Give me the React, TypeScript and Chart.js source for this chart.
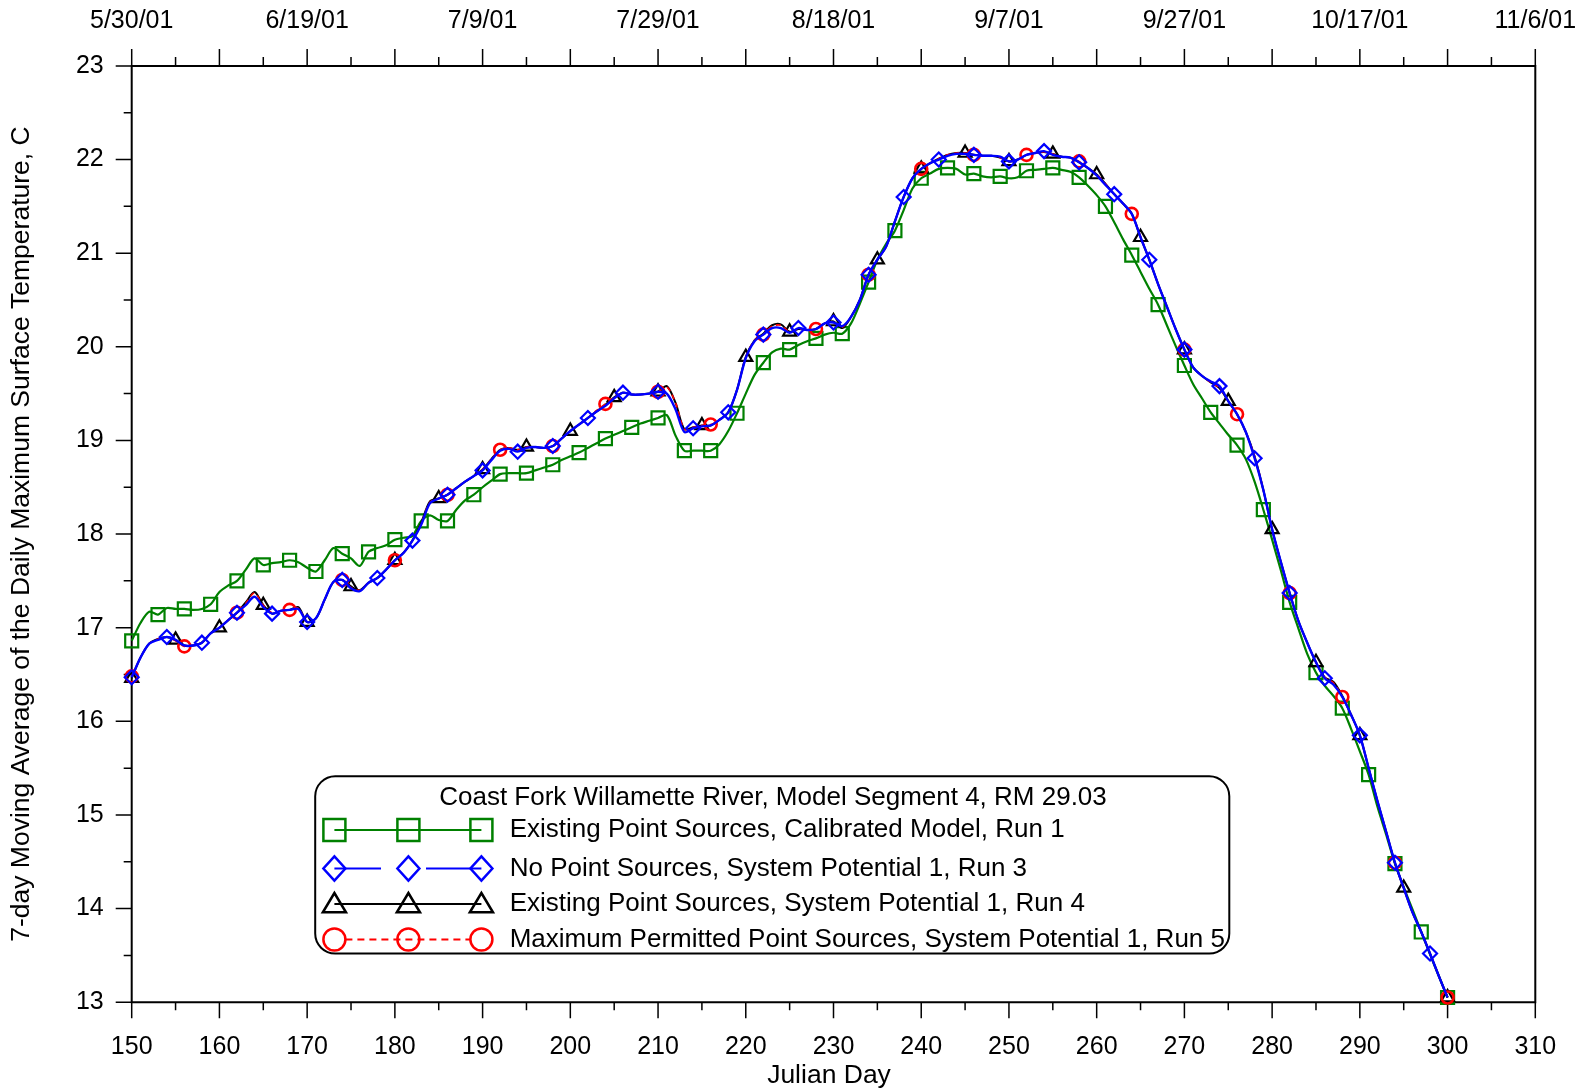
import React, { useEffect, useRef } from 'react';
import { Chart, registerables } from 'chart.js';

Chart.register(...registerables);

const startDay = 150;

// Existing Point Sources, Calibrated Model, Run 1 (daily, day 150..300)
const greenRun1 = [
  16.86, 17.05, 17.17, 17.14, 17.21, 17.20, 17.20, 17.19, 17.20, 17.25,
  17.38, 17.45, 17.50, 17.62, 17.74, 17.67, 17.69, 17.70, 17.72, 17.70,
  17.64, 17.60, 17.72, 17.85, 17.79, 17.74, 17.66, 17.81, 17.85, 17.88,
  17.94, 17.96, 17.98, 18.14, 18.20, 18.15, 18.14, 18.26, 18.36, 18.42,
  18.50, 18.57, 18.64, 18.65, 18.65, 18.65, 18.68, 18.71, 18.74, 18.79,
  18.83, 18.87, 18.92, 18.97, 19.02, 19.06, 19.10, 19.14, 19.18, 19.21,
  19.24, 19.27, 19.05, 18.89, 18.89, 18.89, 18.89, 18.96, 19.10, 19.29,
  19.50, 19.70, 19.83, 19.94, 19.98, 19.97, 20.02, 20.06, 20.09, 20.13,
  20.15, 20.14, 20.25, 20.46, 20.69, 20.93, 21.10, 21.24, 21.46, 21.69,
  21.80, 21.85, 21.90, 21.91, 21.90, 21.84, 21.85, 21.82, 21.81, 21.82,
  21.80, 21.81, 21.88, 21.89, 21.90, 21.91, 21.89, 21.87, 21.81, 21.72,
  21.62, 21.50, 21.33, 21.15, 20.98, 20.80, 20.62, 20.45, 20.23, 20.01,
  19.80, 19.60, 19.45, 19.30, 19.18, 19.06, 18.95, 18.80, 18.56, 18.26,
  17.94, 17.61, 17.27, 16.99, 16.72, 16.52, 16.38, 16.27, 16.14, 15.92,
  15.68, 15.43, 15.09, 14.79, 14.48, 14.23, 13.99, 13.75, 13.51, 13.28,
  13.05,
];

// No Point Sources, System Potential 1, Run 3
const blueRun3 = [
  16.47, 16.68, 16.83, 16.87, 16.90, 16.87, 16.81, 16.81, 16.84, 16.94,
  17.00, 17.08, 17.16, 17.24, 17.33, 17.22, 17.15, 17.18, 17.19, 17.20,
  17.06, 17.10, 17.30, 17.49, 17.51, 17.42, 17.39, 17.48, 17.53, 17.62,
  17.72, 17.80, 17.93, 18.10, 18.33, 18.38, 18.42, 18.49, 18.56, 18.62,
  18.68, 18.79, 18.89, 18.91, 18.88, 18.92, 18.93, 18.92, 18.94, 19.02,
  19.10, 19.17, 19.24, 19.31, 19.37, 19.45, 19.51, 19.49, 19.49, 19.50,
  19.52, 19.50, 19.33, 19.09, 19.13, 19.15, 19.16, 19.22, 19.30, 19.54,
  19.88, 20.06, 20.13, 20.20, 20.20, 20.15, 20.20, 20.18, 20.19, 20.25,
  20.26, 20.22, 20.32, 20.50, 20.77, 20.93, 21.07, 21.34, 21.60, 21.80,
  21.90, 21.96, 22.00, 22.04, 22.06, 22.06, 22.05, 22.04, 22.04, 22.03,
  21.98, 22.00, 22.05, 22.07, 22.09, 22.05, 22.03, 22.02, 21.97, 21.91,
  21.83, 21.73, 21.63, 21.53, 21.42, 21.17, 20.93, 20.67, 20.43, 20.19,
  19.97, 19.78, 19.69, 19.63, 19.58, 19.42, 19.28, 19.09, 18.81, 18.47,
  18.05, 17.70, 17.37, 17.07, 16.84, 16.63, 16.46, 16.39, 16.26, 16.07,
  15.85, 15.50, 15.15, 14.82, 14.49, 14.22, 13.96, 13.75, 13.52, 13.28,
  13.05,
];

// Existing Point Sources, System Potential 1, Run 4
const blackRun4 = [
  16.46, 16.68, 16.83, 16.88, 16.90, 16.87, 16.81, 16.81, 16.84, 16.94,
  17.00, 17.08, 17.16, 17.27, 17.38, 17.24, 17.15, 17.18, 17.19, 17.22,
  17.06, 17.10, 17.30, 17.49, 17.51, 17.44, 17.40, 17.48, 17.53, 17.62,
  17.72, 17.80, 17.93, 18.12, 18.35, 18.38, 18.42, 18.49, 18.56, 18.62,
  18.69, 18.80, 18.90, 18.92, 18.90, 18.93, 18.93, 18.92, 18.94, 19.02,
  19.10, 19.17, 19.24, 19.31, 19.38, 19.46, 19.51, 19.49, 19.49, 19.50,
  19.52, 19.58, 19.40, 19.12, 19.14, 19.16, 19.16, 19.22, 19.30, 19.54,
  19.89, 20.07, 20.14, 20.23, 20.24, 20.16, 20.19, 20.18, 20.19, 20.25,
  20.27, 20.20, 20.32, 20.50, 20.77, 20.93, 21.07, 21.34, 21.60, 21.80,
  21.90, 21.96, 22.01, 22.05, 22.07, 22.07, 22.05, 22.04, 22.04, 22.02,
  21.98, 22.00, 22.05, 22.07, 22.08, 22.06, 22.03, 22.02, 21.97, 21.91,
  21.84, 21.74, 21.63, 21.53, 21.42, 21.17, 20.93, 20.67, 20.43, 20.19,
  19.97, 19.78, 19.69, 19.62, 19.56, 19.42, 19.28, 19.09, 18.83, 18.47,
  18.05, 17.70, 17.37, 17.07, 16.84, 16.63, 16.47, 16.42, 16.27, 16.07,
  15.85, 15.50, 15.15, 14.82, 14.49, 14.22, 13.96, 13.75, 13.52, 13.28,
  13.05,
];

// Maximum Permitted Point Sources, System Potential 1, Run 5
const redRun5 = [
  16.48, 16.68, 16.83, 16.88, 16.90, 16.86, 16.80, 16.81, 16.84, 16.94,
  17.00, 17.08, 17.16, 17.26, 17.37, 17.24, 17.16, 17.18, 17.19, 17.21,
  17.06, 17.10, 17.30, 17.49, 17.51, 17.43, 17.40, 17.48, 17.53, 17.62,
  17.72, 17.80, 17.93, 18.11, 18.34, 18.38, 18.42, 18.49, 18.56, 18.62,
  18.69, 18.80, 18.90, 18.92, 18.90, 18.93, 18.93, 18.92, 18.94, 19.02,
  19.10, 19.17, 19.24, 19.32, 19.39, 19.46, 19.51, 19.49, 19.49, 19.50,
  19.52, 19.57, 19.40, 19.12, 19.14, 19.16, 19.17, 19.22, 19.30, 19.54,
  19.89, 20.07, 20.13, 20.22, 20.23, 20.16, 20.19, 20.18, 20.19, 20.25,
  20.26, 20.21, 20.32, 20.50, 20.77, 20.93, 21.07, 21.34, 21.60, 21.80,
  21.90, 21.96, 22.01, 22.05, 22.07, 22.07, 22.05, 22.04, 22.04, 22.02,
  21.98, 22.00, 22.05, 22.07, 22.08, 22.06, 22.03, 22.02, 21.98, 21.91,
  21.84, 21.74, 21.63, 21.53, 21.42, 21.18, 20.93, 20.67, 20.43, 20.19,
  19.97, 19.78, 19.69, 19.62, 19.56, 19.42, 19.28, 19.09, 18.83, 18.47,
  18.05, 17.70, 17.37, 17.07, 16.84, 16.63, 16.47, 16.41, 16.26, 16.07,
  15.85, 15.50, 15.15, 14.82, 14.49, 14.22, 13.96, 13.75, 13.52, 13.28,
  13.05,
];

const dateLabels = ['5/30/01', '6/19/01', '7/9/01', '7/29/01', '8/18/01', '9/7/01', '9/27/01', '10/17/01', '11/6/01'];

const seriesLabels = [
  'Existing Point Sources, Calibrated Model, Run 1',
  'No Point Sources, System Potential 1, Run 3',
  'Existing Point Sources, System Potential 1, Run 4',
  'Maximum Permitted Point Sources, System Potential 1, Run 5',
];
const legendTitle = 'Coast Fork Willamette River, Model Segment 4, RM 29.03';
const xTitle = 'Julian Day';
const yTitle = '7-day Moving Average of the Daily Maximum Surface Temperature, C';

const GREEN = '#008000';
const BLUE = '#0000ff';
const BLACK = '#000000';
const RED = '#ff0000';
const FONT = '"Liberation Sans", Arial, sans-serif';

const W = 1589;
const H = 1091;
const AREA = { left: 131.7, right: 1535.3, top: 65.9, bottom: 1002.2 };

function drawMarker(ctx: CanvasRenderingContext2D, kind: string, x: number, y: number, s: number) {
  ctx.beginPath();
  if (kind === 'square') {
    ctx.rect(x - s, y - s, 2 * s, 2 * s);
  } else if (kind === 'diamond') {
    ctx.moveTo(x, y - s * 1.1);
    ctx.lineTo(x + s, y);
    ctx.lineTo(x, y + s * 1.1);
    ctx.lineTo(x - s, y);
    ctx.closePath();
  } else if (kind === 'triangle') {
    ctx.moveTo(x, y - s);
    ctx.lineTo(x + s * 1.05, y + s * 0.75);
    ctx.lineTo(x - s * 1.05, y + s * 0.75);
    ctx.closePath();
  } else {
    ctx.arc(x, y, s, 0, Math.PI * 2);
  }
  ctx.stroke();
}

const decorPlugin = {
  id: 'decor',
  beforeDatasetsDraw(chart: any) {
    const ctx: CanvasRenderingContext2D = chart.ctx;
    const { left, right, top, bottom } = chart.chartArea;
    const xs = chart.scales.x;
    const ys = chart.scales.y;
    ctx.save();
    ctx.strokeStyle = '#000';
    ctx.lineWidth = 2;
    ctx.beginPath();
    ctx.rect(left, top, right - left, bottom - top);
    ctx.stroke();
    ctx.lineWidth = 1.5;
    ctx.beginPath();
    for (let v = xs.min; v <= xs.max + 1e-6; v += 5) {
      const px = xs.getPixelForValue(v);
      const major = Math.round(v) % 10 === 0;
      ctx.moveTo(px, bottom);
      ctx.lineTo(px, bottom + (major ? 16 : 8));
      ctx.moveTo(px, top);
      ctx.lineTo(px, top - (major ? 17 : 9));
    }
    for (let v = ys.min; v <= ys.max + 1e-6; v += 0.5) {
      const py = ys.getPixelForValue(v);
      const major = Math.abs(v - Math.round(v)) < 1e-6;
      ctx.moveTo(left, py);
      ctx.lineTo(left - (major ? 16 : 8), py);
    }
    ctx.stroke();
    ctx.restore();
  },
  afterDraw(chart: any) {
    const ctx: CanvasRenderingContext2D = chart.ctx;
    const { top, bottom } = chart.chartArea;
    ctx.save();
    ctx.fillStyle = '#000';
    ctx.font = `26.5px ${FONT}`;
    ctx.textAlign = 'center';
    ctx.textBaseline = 'middle';
    ctx.fillText(xTitle, 829, 1076);
    ctx.save();
    ctx.translate(22, (top + bottom) / 2);
    ctx.rotate(-Math.PI / 2);
    ctx.fillText(yTitle, 0, 0);
    ctx.restore();

    // legend box
    const bx = 315.2, by = 776.3, bw = 1229.3 - 315.2, bh = 953.6 - 776.3, r = 20;
    ctx.beginPath();
    ctx.moveTo(bx + r, by);
    ctx.arcTo(bx + bw, by, bx + bw, by + bh, r);
    ctx.arcTo(bx + bw, by + bh, bx, by + bh, r);
    ctx.arcTo(bx, by + bh, bx, by, r);
    ctx.arcTo(bx, by, bx + bw, by, r);
    ctx.closePath();
    ctx.fillStyle = '#fff';
    ctx.fill();
    ctx.lineWidth = 2;
    ctx.strokeStyle = '#000';
    ctx.stroke();

    ctx.fillStyle = '#000';
    ctx.font = `26px ${FONT}`;
    ctx.textAlign = 'center';
    ctx.fillText(legendTitle, 773, 798);

    const rowsY = [830, 868.5, 904, 939.5];
    const mx = [334.4, 408.4, 481.4];
    const kinds = ['square', 'diamond', 'triangle', 'circle'];
    const colors = [GREEN, BLUE, BLACK, RED];
    for (let i = 0; i < 4; i++) {
      const y = rowsY[i];
      ctx.strokeStyle = colors[i];
      ctx.lineWidth = 2;
      ctx.beginPath();
      if (i === 1) {
        ctx.moveTo(mx[0], y); ctx.lineTo(381, y);
        ctx.moveTo(426, y); ctx.lineTo(mx[2], y);
        ctx.stroke();
      } else if (i === 3) {
        ctx.setLineDash([7, 5]);
        ctx.moveTo(mx[0] + 11, y); ctx.lineTo(mx[2] - 11, y);
        ctx.stroke();
        ctx.setLineDash([]);
      } else {
        ctx.moveTo(mx[0], y); ctx.lineTo(mx[2], y);
        ctx.stroke();
      }
      ctx.lineWidth = 2.5;
      for (const x of mx) drawMarker(ctx, kinds[i], x, y, 11);
      ctx.fillStyle = '#000';
      ctx.textAlign = 'left';
      ctx.fillText(seriesLabels[i], 509.7, y);
    }
    ctx.restore();
  },
};

const every = (n: number, r: number) => (c: any) => (c.dataIndex % n === 0 ? r : 0);
const toPoints = (arr: number[]) => arr.map((v, i) => ({ x: startDay + i, y: v }));

export default function App() {
  const ref = useRef<HTMLCanvasElement | null>(null);
  useEffect(() => {
    if (!ref.current) return;
    const tickFont = { family: FONT, size: 25 };
    const hiddenGrid = { display: true, drawOnChartArea: false, drawTicks: true, tickLength: 30, color: 'rgba(0,0,0,0)' };
    const chart = new Chart(ref.current, {
      type: 'line',
      data: {
        datasets: [
          {
            label: seriesLabels[1], data: toPoints(blueRun3), borderColor: BLUE, borderWidth: 2.4,
            pointStyle: 'rectRot', pointRadius: every(4, 7), pointBorderWidth: 2.2,
            pointBorderColor: BLUE, pointBackgroundColor: 'rgba(0,0,0,0)', tension: 0.3, order: 0, clip: false,
          },
          {
            label: seriesLabels[3], data: toPoints(redRun5), borderColor: RED, borderWidth: 1.6, borderDash: [5, 4],
            pointStyle: 'circle', pointRadius: every(6, 6), pointBorderWidth: 2.6,
            pointBorderColor: RED, pointBackgroundColor: 'rgba(0,0,0,0)', tension: 0.3, order: 1, clip: false,
          },
          {
            label: seriesLabels[2], data: toPoints(blackRun4), borderColor: BLACK, borderWidth: 2,
            pointStyle: 'triangle', pointRadius: every(5, 7.5), pointBorderWidth: 2.2,
            pointBorderColor: BLACK, pointBackgroundColor: 'rgba(0,0,0,0)', tension: 0.3, order: 2, clip: false,
          },
          {
            label: seriesLabels[0], data: toPoints(greenRun1), borderColor: GREEN, borderWidth: 2.2,
            pointStyle: 'rect', pointRadius: every(3, 9.2), pointBorderWidth: 2.2,
            pointBorderColor: GREEN, pointBackgroundColor: 'rgba(0,0,0,0)', tension: 0.3, order: 3, clip: false,
          },
        ],
      },
      options: {
        animation: false,
        responsive: true,
        maintainAspectRatio: false,
        layout: { padding: { left: 0, right: W - AREA.right, top: 0, bottom: 0 } },
        plugins: { legend: { display: false }, tooltip: { enabled: false }, title: { display: false } },
        scales: {
          x: {
            type: 'linear', position: 'bottom', min: 150, max: 310,
            ticks: { stepSize: 10, padding: 0, font: tickFont, color: '#000', maxRotation: 0, autoSkip: false, callback: (v: any) => String(v) },
            grid: hiddenGrid, border: { display: false },
            afterFit: (s: any) => { s.height = H - AREA.bottom; },
          },
          xTop: {
            type: 'linear', position: 'top', min: 150, max: 310,
            ticks: {
              stepSize: 20, padding: 0, font: tickFont, color: '#000', maxRotation: 0, autoSkip: false,
              callback: (v: any) => dateLabels[Math.round((Number(v) - 150) / 20)] ?? '',
            },
            grid: hiddenGrid, border: { display: false },
            afterFit: (s: any) => { s.height = AREA.top; },
          },
          y: {
            type: 'linear', position: 'left', min: 13, max: 23,
            ticks: { stepSize: 1, padding: 28, font: tickFont, color: '#000' },
            grid: { display: false, drawTicks: false }, border: { display: false },
            afterFit: (s: any) => { s.width = AREA.left; },
          },
        },
      } as any,
      plugins: [decorPlugin],
    });
    return () => chart.destroy();
  }, []);
  return (
    <div style={{ position: 'absolute', left: 0, top: 0, width: W, height: H, background: '#fff' }}>
      <canvas ref={ref} />
    </div>
  );
}
